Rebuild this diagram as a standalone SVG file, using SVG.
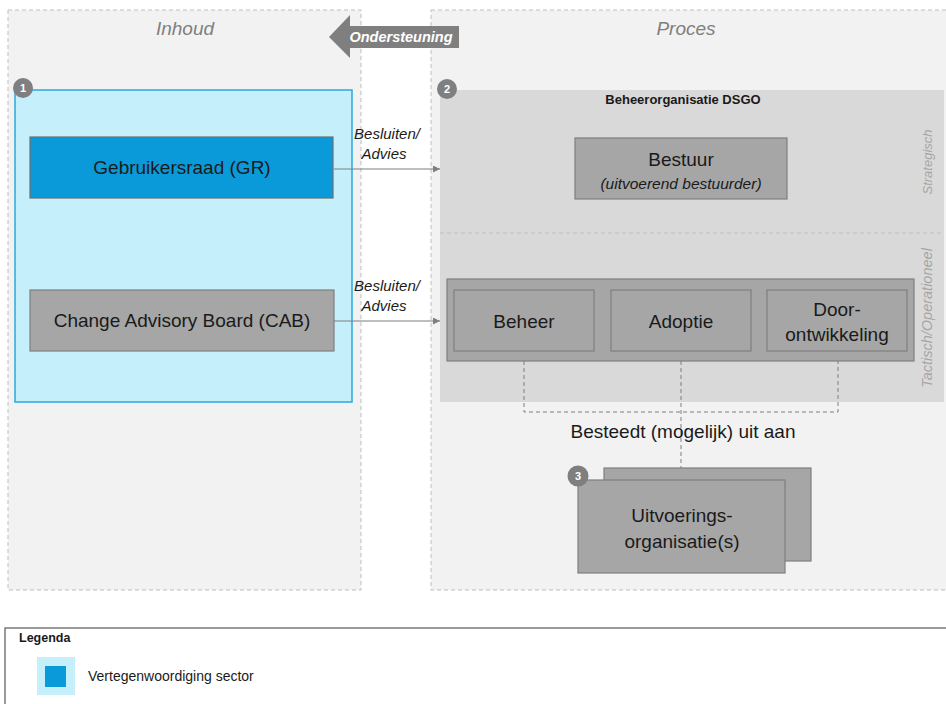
<svg xmlns="http://www.w3.org/2000/svg" width="946" height="704" viewBox="0 0 946 704">
<defs>
<style>
text{font-family:"Liberation Sans","Noto Sans",sans-serif;fill:#1a1a1a}
.panel{fill:#f2f2f2;stroke:#bfbfbf;stroke-width:1;stroke-dasharray:4 3}
.box{fill:#a6a6a6;stroke:#7f7f7f;stroke-width:1.2}
.t17{font-size:19px;text-anchor:middle}
.lbl{font-size:15px;font-style:italic;text-anchor:middle}
.side{font-size:13px;font-style:italic;fill:#a6a6a6;text-anchor:middle}
.badge{fill:#7f7f7f}
.bt{font-size:11px;font-weight:bold;fill:#ffffff;text-anchor:middle}
.conn{stroke:#7f7f7f;stroke-width:1.2;fill:none}
.dash{stroke:#7f7f7f;stroke-width:1;fill:none;stroke-dasharray:4 3}
</style>
<marker id="ah" viewBox="0 0 10 10" refX="10" refY="5" markerWidth="7" markerHeight="7" orient="auto" markerUnits="userSpaceOnUse">
<path d="M0,0 L10,5 L0,10 z" fill="#7f7f7f"/>
</marker>
</defs>
<rect width="946" height="704" fill="#ffffff"/>

<g id="inhoud">
<rect class="panel" x="8" y="10" width="353" height="580"/>
<text x="185" y="35" font-size="19" font-style="italic" text-anchor="middle" style="fill:#7f7f7f">Inhoud</text>
</g>
<g id="proces">
<rect class="panel" x="431" y="10" width="520" height="580"/>
<text x="686" y="35" font-size="19" font-style="italic" text-anchor="middle" style="fill:#7f7f7f">Proces</text>
</g>

<g id="ondersteuning">
<polygon points="329,37 350,15 350,26 459,26 459,48 350,48 350,58" fill="#7f7f7f"/>
<text x="401" y="42" font-size="14.5" font-weight="bold" font-style="italic" text-anchor="middle" style="fill:#ffffff">Ondersteuning</text>
</g>

<g id="sector">
<rect x="15" y="90" width="337" height="312" fill="#c6effc" stroke="#29a9e1" stroke-width="1.5"/>
<circle class="badge" cx="23" cy="88" r="10"/>
<text class="bt" x="23" y="92">1</text>
</g>

<g id="gr">
<rect x="30" y="137" width="303" height="61" fill="#0a9ad9" stroke="#6f6f6f" stroke-width="1.2"/>
<text class="t17" x="182" y="174">Gebruikersraad (GR)</text>
</g>

<g id="cab">
<rect class="box" x="30" y="290" width="304" height="61"/>
<text class="t17" x="182" y="327">Change Advisory Board (CAB)</text>
</g>

<g id="beheerorganisatie">
<rect x="440" y="90" width="504" height="312" fill="#d9d9d9"/>
<line x1="440" y1="233" x2="944" y2="233" stroke="#bfbfbf" stroke-width="1" stroke-dasharray="4 3"/>
<circle class="badge" cx="447" cy="89" r="10"/>
<text class="bt" x="447" y="93">2</text>
<text x="683" y="104" font-size="13" font-weight="bold" text-anchor="middle">Beheerorganisatie DSGO</text>
<text class="side" transform="translate(932,162) rotate(-90)">Strategisch</text>
<text class="side" transform="translate(932,318) rotate(-90)" style="font-size:14.5px">Tactisch/Operationeel</text>
</g>

<g id="bestuur">
<rect class="box" x="575" y="138" width="212" height="61"/>
<text class="t17" x="681" y="166">Bestuur</text>
<text x="681" y="189" font-size="15.5" font-style="italic" text-anchor="middle">(uitvoerend bestuurder)</text>
</g>

<g id="tactisch">
<rect class="box" x="447" y="279" width="467" height="82"/>
</g>
<g id="beheer">
<rect class="box" x="454" y="290" width="140" height="61"/>
<text class="t17" x="524" y="328">Beheer</text>
</g>
<g id="adoptie">
<rect class="box" x="611" y="290" width="140" height="61"/>
<text class="t17" x="681" y="328">Adoptie</text>
</g>
<g id="doorontwikkeling">
<rect class="box" x="767" y="290" width="140" height="61"/>
<text class="t17" x="837" y="316">Door-</text>
<text class="t17" x="837" y="341">ontwikkeling</text>
</g>

<g id="connectors">
<line class="conn" x1="334" y1="169" x2="440" y2="169" marker-end="url(#ah)"/>
<line class="conn" x1="334" y1="321" x2="440" y2="321" marker-end="url(#ah)"/>
<text class="lbl" x="387" y="139">Besluiten/</text>
<text class="lbl" x="384" y="159">Advies</text>
<text class="lbl" x="387" y="291">Besluiten/</text>
<text class="lbl" x="384" y="311">Advies</text>
<path class="dash" d="M524,361 V412 H838 V361 M681,361 V480"/>
<text class="t17" x="683" y="438">Besteedt (mogelijk) uit aan</text>
</g>

<g id="uitvoeringsorganisatie">
<rect class="box" x="604" y="468" width="207" height="93"/>
<rect class="box" x="578" y="480" width="207" height="93"/>
<circle class="badge" cx="578" cy="476" r="10.5"/>
<text class="bt" x="578" y="480">3</text>
<text class="t17" x="682" y="522">Uitvoerings-</text>
<text class="t17" x="682" y="548">organisatie(s)</text>
</g>

<g id="legenda">
<rect x="5" y="628" width="950" height="80" fill="#ffffff" stroke="#595959" stroke-width="1.2"/>
<text x="19" y="642" font-size="12.5" font-weight="bold">Legenda</text>
<rect x="37" y="657" width="38" height="38" fill="#c6effc"/>
<rect x="45" y="666" width="21" height="21" fill="#0a9ad9"/>
<text x="88" y="681" font-size="14">Vertegenwoordiging sector</text>
</g>
</svg>
